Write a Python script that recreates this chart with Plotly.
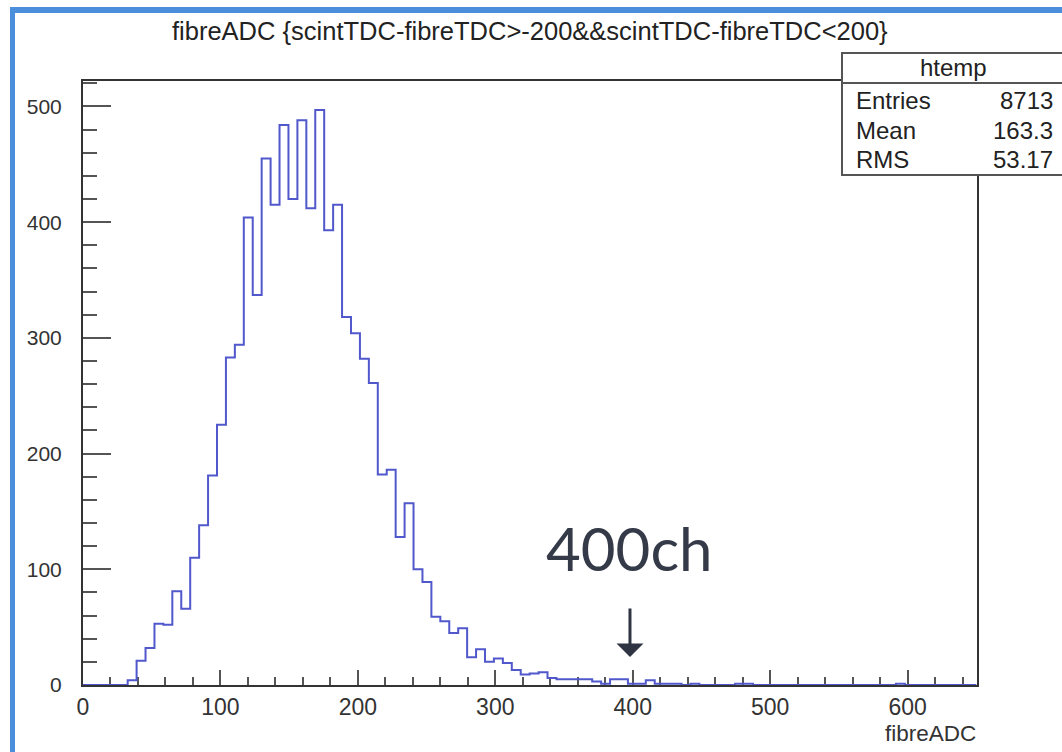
import plotly.graph_objects as go

# ---------------- data ----------------
bin_width = 6.5
n_bins = 100
counts = [
    0, 0, 0, 0, 0, 4, 21, 32, 53, 52,
    81, 66, 110, 138, 181, 225, 283, 294, 404, 337,
    455, 415, 484, 420, 488, 412, 497, 393, 415, 318,
    304, 282, 261, 182, 186, 128, 157, 100, 89, 59,
    55, 45, 49, 24, 31, 20, 23, 19, 13, 9,
    10, 11, 6, 5, 5, 5, 5, 3, 1, 5,
    5, 1, 1, 4, 1, 1, 1, 0, 1, 0,
    0, 0, 0, 1, 1, 0, 0, 0, 0, 0,
    0, 0, 0, 0, 0, 0, 0, 0, 0, 0,
    0, 1, 0, 0, 0, 0, 0, 0, 0, 0,
]
x_ticks = [0, 100, 200, 300, 400, 500, 600]
y_ticks = [0, 100, 200, 300, 400, 500]
title_text = "fibreADC {scintTDC-fibreTDC>-200&&scintTDC-fibreTDC<200}"
stats_name = "htemp"
stats_labels = ["Entries", "Mean", "RMS"]
stats_values = ["8713", "163.3", "53.17"]
x_title = "fibreADC"
marker_label = "400ch"
marker_x = 398

edges = [bin_width * i for i in range(n_bins + 1)]
ys = counts + [counts[-1]]

# ---------------- layout geometry ----------------
W, H = 1062, 752
ML, MR, MT, MB = 83, 85, 81, 67
PW, PH = W - ML - MR, H - MT - MB


def px(x):
    return (x - ML) / PW


def py(y):
    return (H - MB - y) / PH


fig = go.Figure()
fig.add_trace(go.Scatter(
    x=edges, y=ys, mode="lines", line_shape="hv",
    line=dict(color="#5058cc", width=2), showlegend=False, hoverinfo="skip",
))

axis_font = "Liberation Sans, Arial, sans-serif"
fig.update_layout(
    width=W, height=H, autosize=False,
    margin=dict(l=ML, r=MR, t=MT, b=MB, pad=0),
    paper_bgcolor="white", plot_bgcolor="white",
    showlegend=False,
    xaxis=dict(
        range=[0, 650.5], tickvals=x_ticks, ticktext=[str(v) for v in x_ticks],
        ticks="inside", ticklen=15, tickwidth=2, tickcolor="#555",
        minor=dict(dtick=20, tick0=0, ticks="inside", ticklen=8, tickwidth=2, tickcolor="#555"),
        showline=True, linecolor="#333", linewidth=2, mirror=True,
        showgrid=False, zeroline=False,
        tickfont=dict(family=axis_font, size=23, color="#333"),
        ticklabelstandoff=0,
        layer="below traces",
    ),
    yaxis=dict(
        range=[0, 522], tickvals=y_ticks, ticktext=[str(v) for v in y_ticks],
        ticks="inside", ticklen=28, tickwidth=2, tickcolor="#555",
        minor=dict(dtick=20, tick0=0, ticks="inside", ticklen=14, tickwidth=2, tickcolor="#555"),
        showline=True, linecolor="#333", linewidth=2, mirror=True,
        showgrid=False, zeroline=False,
        tickfont=dict(family=axis_font, size=21, color="#333"),
        ticklabelstandoff=15,
        layer="below traces",
    ),
)

shapes = []
# blue screenshot frame
blue = "#4b8fdc"
shapes.append(dict(type="rect", xref="paper", yref="paper",
                   x0=px(10), x1=px(1070), y0=py(7), y1=py(13),
                   fillcolor=blue, line=dict(width=0), layer="above"))
shapes.append(dict(type="rect", xref="paper", yref="paper",
                   x0=px(10), x1=px(15), y0=py(7), y1=py(760),
                   fillcolor=blue, line=dict(width=0), layer="above"))
# stats box
shapes.append(dict(type="rect", xref="paper", yref="paper",
                   x0=px(842), x1=px(1064), y0=py(53), y1=py(175),
                   fillcolor="white", line=dict(color="#555", width=2), layer="above"))
shapes.append(dict(type="line", xref="paper", yref="paper",
                   x0=px(842), x1=px(1064), y0=py(83), y1=py(83),
                   line=dict(color="#555", width=2), layer="above"))
fig.update_layout(shapes=shapes)

ann = []
ann.append(dict(text=title_text, xref="paper", yref="paper", x=px(530), y=py(31),
                xanchor="center", yanchor="middle", showarrow=False,
                font=dict(family=axis_font, size=25.5, color="#222")))
ann.append(dict(text=x_title, xref="paper", yref="paper", x=px(978), y=py(733),
                xanchor="right", yanchor="middle", showarrow=False,
                font=dict(family=axis_font, size=22.5, color="#333")))
ann.append(dict(text=stats_name, xref="paper", yref="paper", x=px(953), y=py(68),
                xanchor="center", yanchor="middle", showarrow=False,
                font=dict(family=axis_font, size=24, color="#222")))
row_y = [101, 130, 159]
for lab, val, ry in zip(stats_labels, stats_values, row_y):
    ann.append(dict(text=lab, xref="paper", yref="paper", x=px(854), y=py(ry),
                    xanchor="left", yanchor="middle", showarrow=False,
                    font=dict(family=axis_font, size=24, color="#222")))
    ann.append(dict(text=val, xref="paper", yref="paper", x=px(1055), y=py(ry),
                    xanchor="right", yanchor="middle", showarrow=False,
                    font=dict(family=axis_font, size=24, color="#222")))
# 400ch label and arrow
ann.append(dict(text=marker_label, xref="x", yref="paper", x=marker_x, y=py(548),
                xanchor="center", yanchor="middle", showarrow=False,
                font=dict(family="Lato, sans-serif", size=60, color="#343a48")))
ann.append(dict(text="", xref="x", yref="paper", x=marker_x, y=py(657),
                showarrow=True, ax=0, ay=-50, arrowhead=1, arrowsize=1.5,
                arrowwidth=3, arrowcolor="#2e3442"))
fig.update_layout(annotations=ann)

fig.write_html("out.html")
